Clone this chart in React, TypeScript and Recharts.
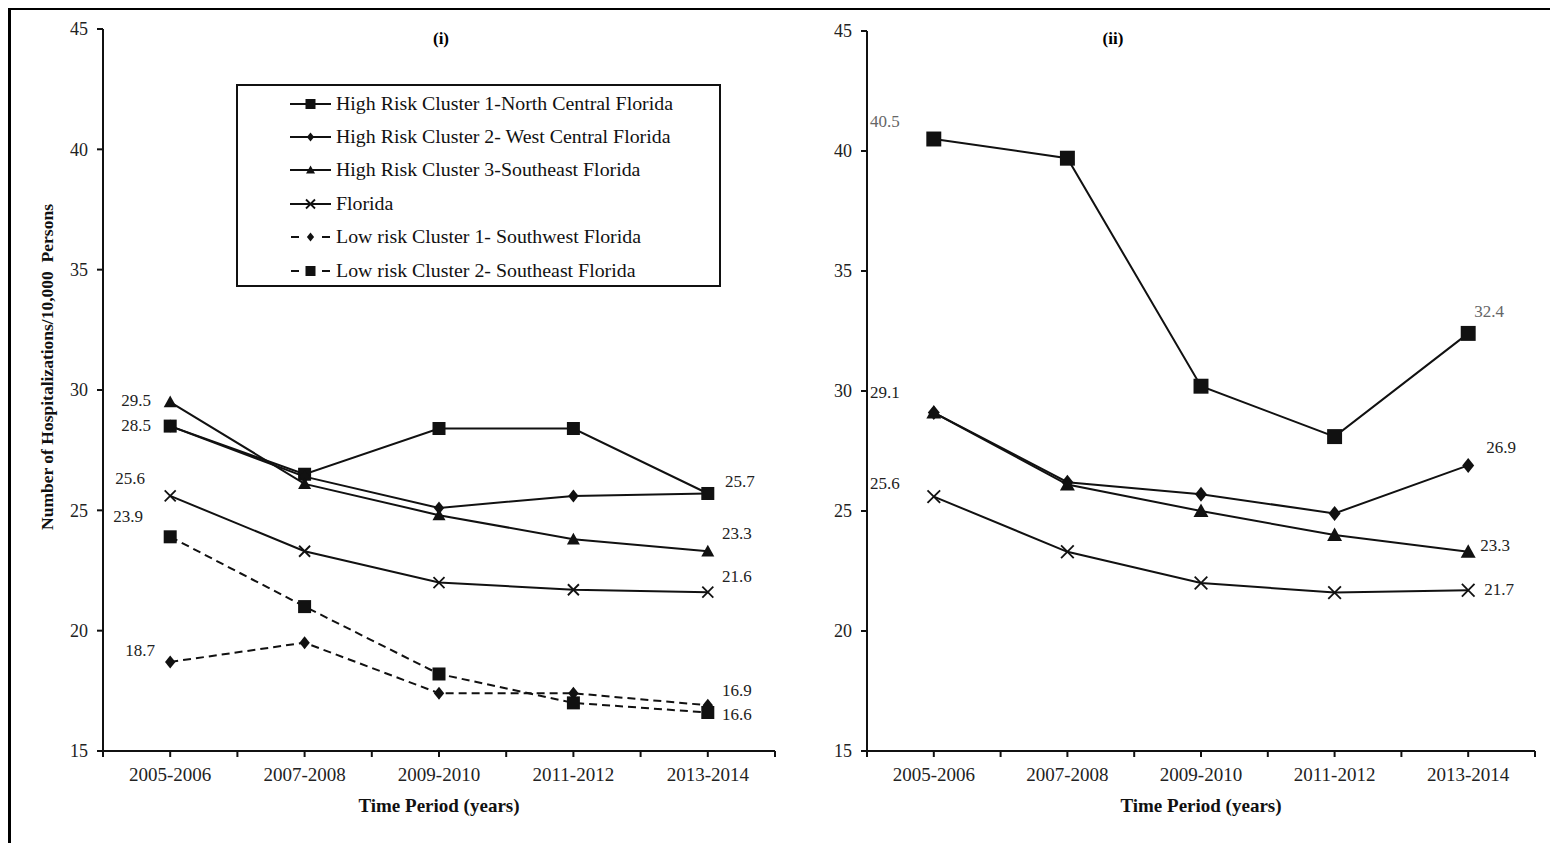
import { Legend, LabelList, Line, LineChart, XAxis, YAxis } from "recharts";

const periods = ["2005-2006", "2007-2008", "2009-2010", "2011-2012", "2013-2014"];
const yTicks = [15, 20, 25, 30, 35, 40, 45];

// panel (i)
const leftHR1 = [28.5, 26.5, 28.4, 28.4, 25.7];
const leftHR2 = [28.5, 26.4, 25.1, 25.6, 25.7];
const leftHR3 = [29.5, 26.1, 24.8, 23.8, 23.3];
const leftFL = [25.6, 23.3, 22.0, 21.7, 21.6];
const leftLR1 = [18.7, 19.5, 17.4, 17.4, 16.9];
const leftLR2 = [23.9, 21.0, 18.2, 17.0, 16.6];

// panel (ii)
const rightHR1 = [40.5, 39.7, 30.2, 28.1, 32.4];
const rightHR2 = [29.1, 26.2, 25.7, 24.9, 26.9];
const rightHR3 = [29.1, 26.1, 25.0, 24.0, 23.3];
const rightFL = [25.6, 23.3, 22.0, 21.6, 21.7];

type Shape = "square" | "diamond" | "triangle" | "cross";

const seriesMeta: { key: string; name: string; shape: Shape; dashed: boolean }[] = [
  { key: "hr1", name: "High Risk Cluster 1-North Central Florida", shape: "square", dashed: false },
  { key: "hr2", name: "High Risk Cluster 2- West Central Florida", shape: "diamond", dashed: false },
  { key: "hr3", name: "High Risk Cluster 3-Southeast Florida", shape: "triangle", dashed: false },
  { key: "fl", name: "Florida", shape: "cross", dashed: false },
  { key: "lr1", name: "Low risk Cluster 1- Southwest Florida", shape: "diamond", dashed: true },
  { key: "lr2", name: "Low risk Cluster 2- Southeast Florida", shape: "square", dashed: true },
];

const leftRows = periods.map((p, i) => ({
  x: i + 0.5,
  period: p,
  hr1: leftHR1[i],
  hr2: leftHR2[i],
  hr3: leftHR3[i],
  fl: leftFL[i],
  lr1: leftLR1[i],
  lr2: leftLR2[i],
}));

const rightRows = periods.map((p, i) => ({
  x: i + 0.5,
  period: p,
  hr1: rightHR1[i],
  hr2: rightHR2[i],
  hr3: rightHR3[i],
  fl: rightFL[i],
}));

// where the value labels sit relative to their point (px)
const leftLabels: Record<string, Record<number, [number, number]>> = {
  hr1: { 0: [-34, -1], 4: [32, -12] },
  hr3: { 0: [-34, -2], 4: [29, -18] },
  fl: { 0: [-40, -17], 4: [29, -16] },
  lr1: { 0: [-30, -11], 4: [29, -15] },
  lr2: { 0: [-42, -20], 4: [29, 2] },
};
const rightLabels: Record<string, Record<number, [number, number]>> = {
  hr1: { 0: [-49, -18], 4: [21, -22] },
  hr2: { 4: [33, -18] },
  hr3: { 0: [-49, -20], 4: [27, -6] },
  fl: { 0: [-49, -13], 4: [31, -1] },
};

const FONT = "'Liberation Serif', 'Times New Roman', serif";
const INK = "#111";

function Marker({ shape, cx, cy, size }: { shape: Shape; cx: number; cy: number; size: number }) {
  const h = size / 2;
  if (shape === "square")
    return <rect x={cx - h} y={cy - h} width={size} height={size} fill={INK} />;
  if (shape === "diamond")
    return <polygon points={`${cx},${cy - h} ${cx + h * 0.8},${cy} ${cx},${cy + h} ${cx - h * 0.8},${cy}`} fill={INK} />;
  if (shape === "triangle")
    return <polygon points={`${cx},${cy - h} ${cx + h},${cy + h * 0.8} ${cx - h},${cy + h * 0.8}`} fill={INK} />;
  return (
    <g stroke={INK} strokeWidth={1.8}>
      <line x1={cx - h} y1={cy - h} x2={cx + h} y2={cy + h} />
      <line x1={cx - h} y1={cy + h} x2={cx + h} y2={cy - h} />
    </g>
  );
}

function LegendBox() {
  return (
    <div
      style={{
        border: "2px solid #111",
        background: "#fff",
        width: 485,
        height: 203,
        boxSizing: "border-box",
        paddingTop: 1,
        fontFamily: FONT,
        fontSize: 19,
        color: INK,
      }}
    >
      {seriesMeta.map((s) => (
        <div key={s.key} style={{ display: "flex", alignItems: "center", height: 33.4, paddingLeft: 52 }}>
          <svg width={42} height={14} style={{ flex: "none" }}>
            {s.dashed ? (
              <g stroke={INK} strokeWidth={2}>
                <line x1={1} y1={7} x2={9} y2={7} />
                <line x1={32} y1={7} x2={40} y2={7} />
              </g>
            ) : (
              <line x1={0} y1={7} x2={41} y2={7} stroke={INK} strokeWidth={2} />
            )}
            <Marker shape={s.shape} cx={20.5} cy={7} size={s.shape === "square" ? 10 : 9} />
          </svg>
          <span
            style={{
              marginLeft: 4,
              whiteSpace: "nowrap",
              display: "inline-block",
              transform: "scaleX(1.045)",
              transformOrigin: "left center",
            }}
          >
            {s.name}
          </span>
        </div>
      ))}
    </div>
  );
}

function Panel({
  rows,
  keys,
  labels,
  width,
  yAxisWidth,
  top,
  markerScale,
  showYTitle,
  showLegend,
}: {
  rows: any[];
  keys: string[];
  labels: Record<string, Record<number, [number, number]>>;
  width: number;
  yAxisWidth: number;
  top: number;
  markerScale: number;
  showYTitle: boolean;
  showLegend: boolean;
}) {
  return (
    <LineChart width={width} height={830} data={rows} margin={{ top, right: 15, bottom: 29, left: 0 }}>
      <XAxis
        type="number"
        dataKey="x"
        domain={[0, 5]}
        ticks={[0, 0.5, 1, 1.5, 2, 2.5, 3, 3.5, 4, 4.5, 5]}
        interval={0}
        tickFormatter={(v: number) => (v % 1 === 0.5 ? periods[Math.floor(v)] : "")}
        stroke={INK}
        strokeWidth={2}
        tickSize={6}
        tickMargin={11}
        tick={{ fill: "#222", fontSize: 19, fontFamily: FONT }}
        height={60}
        label={{
          content: (p: any) => {
            const vb = p.viewBox;
            return (
              <text
                x={vb.x + vb.width / 2}
                y={vb.y + 61}
                textAnchor="middle"
                fontFamily={FONT}
                fontWeight="bold"
                fontSize={19}
                fill={INK}
              >
                Time Period (years)
              </text>
            );
          },
        }}
      />
      <YAxis
        domain={[15, 45]}
        ticks={yTicks}
        interval={0}
        stroke={INK}
        strokeWidth={2}
        tickSize={6}
        tickMargin={9}
        tick={{ fill: "#222", fontSize: 18, fontFamily: FONT }}
        width={yAxisWidth}
        label={
          showYTitle
            ? {
                content: (p: any) => {
                  const vb = p.viewBox;
                  const cx = vb.x + 37;
                  const cy = vb.y + vb.height / 2 - 23;
                  return (
                    <text
                      x={cx}
                      y={cy}
                      transform={`rotate(-90 ${cx} ${cy})`}
                      textAnchor="middle"
                      dominantBaseline="central"
                      fontFamily={FONT}
                      fontWeight="bold"
                      fontSize={17.5}
                      fill={INK}
                    >
                      Number of Hospitalizations/10,000{"\u00a0\u00a0"}Persons
                    </text>
                  );
                },
              }
            : undefined
        }
      />
      {showLegend && (
        <Legend
          layout="vertical"
          align="center"
          verticalAlign="middle"
          content={() => <LegendBox />}
          wrapperStyle={{ left: 226, top: 74, width: 485, height: 203 }}
        />
      )}
      {keys.map((k) => {
        const meta = seriesMeta.find((s) => s.key === k)!;
        const size = (meta.shape === "cross" ? 11 : 13) * markerScale;
        const place = labels[k] || {};
        return (
          <Line
            key={k}
            dataKey={k}
            name={meta.name}
            type="linear"
            stroke={INK}
            strokeWidth={2}
            strokeDasharray={meta.dashed ? "8 5" : undefined}
            isAnimationActive={false}
            dot={(p: any) => (
              <Marker key={`${k}-${p.index}`} shape={meta.shape} cx={p.cx} cy={p.cy} size={size} />
            )}
            activeDot={false}
          >
            <LabelList
              dataKey={k}
              content={(p: any) => {
                const off = place[p.index];
                if (!off) return null;
                const gray = k === "hr1" && markerScale > 1;
                return (
                  <text
                    x={p.x + off[0]}
                    y={p.y + off[1]}
                    textAnchor="middle"
                    dominantBaseline="central"
                    fontFamily={FONT}
                    fontSize={17}
                    fill={gray ? "#666" : "#222"}
                  >
                    {Number(p.value).toFixed(1)}
                  </text>
                );
              }}
            />
          </Line>
        );
      })}
    </LineChart>
  );
}

export default function App() {
  return (
    <div style={{ position: "relative", width: 1550, height: 835, fontFamily: FONT, background: "#fff" }}>
      <div style={{ position: "absolute", left: 0, top: -1, width: 1550, height: 3, background: "#000" }} />
      <div style={{ position: "absolute", left: 0, top: -1, width: 3, height: 840, background: "#000" }} />
      <div style={{ position: "absolute", left: 2, top: 2 }}>
        <Panel
          rows={leftRows}
          keys={["hr1", "hr2", "hr3", "fl", "lr1", "lr2"]}
          labels={leftLabels}
          width={780}
          yAxisWidth={93}
          top={19}
          markerScale={1}
          showYTitle
          showLegend
        />
      </div>
      <div style={{ position: "absolute", left: 782, top: 2 }}>
        <Panel
          rows={rightRows}
          keys={["hr1", "hr2", "hr3", "fl"]}
          labels={rightLabels}
          width={760}
          yAxisWidth={77}
          top={21}
          markerScale={1.15}
          showYTitle={false}
          showLegend={false}
        />
      </div>
      <div style={{ position: "absolute", left: 413, top: 21, width: 40, textAlign: "center", fontWeight: "bold", fontSize: 17 }}>
        (i)
      </div>
      <div style={{ position: "absolute", left: 1085, top: 21, width: 40, textAlign: "center", fontWeight: "bold", fontSize: 17 }}>
        (ii)
      </div>
    </div>
  );
}
